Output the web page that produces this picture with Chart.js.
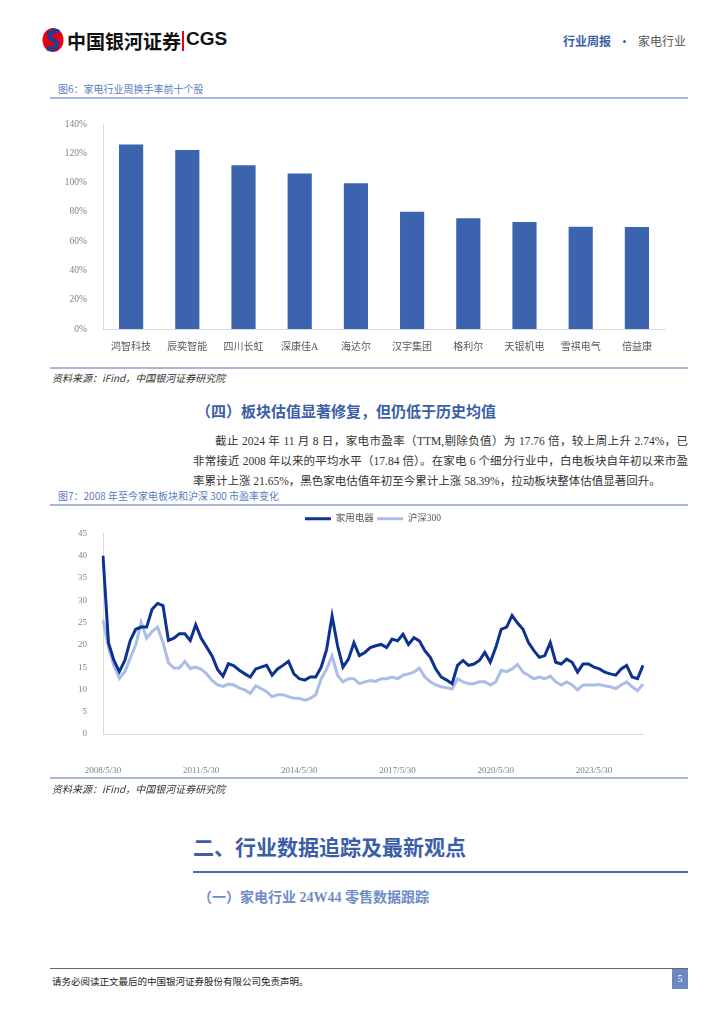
<!DOCTYPE html>
<html>
<head>
<meta charset="utf-8">
<script src="https://cdn.jsdelivr.net/npm/chart.js@4.4.1/dist/chart.umd.min.js"></script>
<style>
	body { margin: 0; background: #fff; width: 724px; height: 1024px; position: relative; overflow: hidden; font-family: "Liberation Serif", "Noto Sans CJK SC", serif; }
	.abs { position: absolute; white-space: nowrap; }
	.rule { position: absolute; height: 2px; background: #a8b7d8; }
	.figtitle { font-size: 10px; color: #5b7cbd; font-family: "Noto Sans CJK SC", sans-serif; }
	.source { font-size: 10px; color: #333; font-style: italic; font-family: "Noto Sans CJK SC", sans-serif; }
	.para { position: absolute; left: 193px; width: 495px; font-size: 11.5px; color: #333; text-align: justify; text-align-last: justify; white-space: nowrap; font-family: "Liberation Serif", "Noto Sans CJK SC", serif; }
	.head { color: #3c5ea8; font-weight: bold; font-family: "Liberation Serif", "Noto Sans CJK SC", serif; }
</style>
</head>
<body>

<!-- header -->
<svg class="abs" style="left:40px;top:27px" width="26" height="26" viewBox="0 0 26 26">
	<ellipse cx="13" cy="13" rx="10.5" ry="12" fill="#e60012"/>
	<path d="M19 5 C11 2, 5 9, 13 13 C21 17, 16 24, 7 21" stroke="#1d3e93" stroke-width="4.5" fill="none"/>
</svg>
<div class="abs" style="left:67px;top:27px;font-size:19px;font-weight:bold;color:#111;font-family:'Noto Sans CJK SC',sans-serif;">中国银河证券</div>
<div class="abs" style="left:182px;top:31px;width:2px;height:20px;background:#e60012;"></div>
<div class="abs" style="left:186px;top:28px;font-size:19px;font-weight:bold;color:#111;font-family:'Liberation Sans',sans-serif;">CGS</div>
<div class="abs" style="left:563px;top:32px;font-size:12px;font-weight:bold;color:#3c5ea8;">行业周报</div>
<div class="abs" style="left:623px;top:40px;width:3px;height:3px;border-radius:2px;background:#3c5ea8;"></div>
<div class="abs" style="left:638px;top:32px;font-size:12px;color:#555;font-family:'Noto Sans CJK SC',sans-serif;">家电行业</div>

<!-- figure 6 -->
<div class="abs figtitle" style="left:58px;top:81px;">图6：家电行业周换手率前十个股</div>
<div class="rule" style="left:50px;top:97px;width:638px;"></div>
<div class="abs" style="left:50px;top:108px;width:638px;height:258px;"><canvas id="bar-chart"></canvas></div>
<div class="rule" style="left:50px;top:367px;width:638px;"></div>
<div class="abs source" style="left:52px;top:370px;">资料来源：iFind，中国银河证券研究院</div>

<!-- section 4 -->
<div class="abs head" style="left:196px;top:400px;font-size:15px;">（四）板块估值显著修复，但仍低于历史均值</div>
<div class="para" style="top:432px;padding-left:22px;width:473px;">截止 2024 年 11 月 8 日，家电市盈率（TTM,剔除负值）为 17.76 倍，较上周上升 2.74%，已</div>
<div class="para" style="top:452px;">非常接近 2008 年以来的平均水平（17.84 倍）。在家电 6 个细分行业中，白电板块自年初以来市盈</div>
<div class="para" style="top:472px;text-align-last:left;">率累计上涨 21.65%，黑色家电估值年初至今累计上涨 58.39%，拉动板块整体估值显著回升。</div>

<!-- figure 7 -->
<div class="abs figtitle" style="left:58px;top:488px;">图7：2008 年至今家电板块和沪深 300 市盈率变化</div>
<div class="rule" style="left:50px;top:504px;width:638px;"></div>
<div class="abs" style="left:50px;top:513px;width:638px;height:267px;"><canvas id="pe-chart"></canvas></div>
<div class="rule" style="left:50px;top:777px;width:638px;"></div>
<div class="abs source" style="left:52px;top:781px;">资料来源：iFind，中国银河证券研究院</div>

<!-- section 2 -->
<div class="abs head" style="left:193px;top:831px;font-size:21px;">二、行业数据追踪及最新观点</div>
<div class="abs" style="left:193px;top:871px;width:495px;height:2px;background:#4a6bb0;"></div>
<div class="abs head" style="left:198px;top:886px;font-size:14px;color:#6f8cc6;">（一）家电行业 24W44 零售数据跟踪</div>

<!-- footer -->
<div class="abs" style="left:50px;top:968px;width:638px;height:1px;background:#666;"></div>
<div class="abs" style="left:52px;top:974px;font-size:9.5px;color:#222;font-family:'Noto Sans CJK SC',sans-serif;">请务必阅读正文最后的中国银河证券股份有限公司免责声明。</div>
<div class="abs" style="left:672px;top:969px;width:16px;height:20px;background:#6d87c0;color:#fff;font-size:10px;line-height:20px;text-align:center;">5</div>

<script>
var chartFont = '"Liberation Serif", "Noto Sans CJK SC", serif';
var tickColor = '#808080';
var axisColor = '#d9d9d9';

/* figure 6: turnover */

var stocks = ['鸿智科技', '辰奕智能', '四川长虹', '深康佳A', '海达尔', '汉宇集团', '格利尔', '天银机电', '雪祺电气', '倍益康'];
var turnover = [126.0, 122.2, 111.8, 106.2, 99.6, 80.0, 75.7, 73.0, 69.9, 69.7];

/* figure 7: PE (TTM), every two months from 2008/5/30 */

var peStart = { year: 2008, month: 5 };
var peTicks = ['2008/5/30', '2011/5/30', '2014/5/30', '2017/5/30', '2020/5/30', '2023/5/30'];
var homeAppliances = [
	40, 20.5, 16.5, 14, 16.5, 21, 23.5, 24, 24, 28,
	29.3, 28.8, 21, 21.5, 22.5, 22.5, 21, 24.5, 21.5, 19.5,
	17.5, 14.5, 13, 15.8, 15.3, 14.3, 13.5, 12.8, 14.6, 15,
	15.4, 13.2, 14.6, 15.4, 16.3, 13.5, 12.4, 12.1, 12.8, 12.8,
	15, 19, 26.5, 19.8, 15, 16.8, 20.5, 17.6, 18.3, 19.4,
	19.8, 20.1, 19.4, 21.3, 20.9, 22.4, 20.1, 21.6, 20.9, 18.7,
	17.2, 14.6, 12.8, 12.1, 11.3, 15.4, 16.5, 15.4, 15.7, 16.5,
	18.3, 16.1, 19.4, 23.5, 24, 26.6, 24.9, 23.5, 20.5, 18.7,
	17.2, 17.6, 20.5, 16.1, 15.7, 16.8, 16.1, 13.9, 15.7, 15.7,
	15, 14.6, 13.9, 13.5, 13.2, 14.6, 15.4, 12.8, 12.4, 15.4
];
var csi300 = [
	25.5, 19.5, 15.3, 12.5, 14, 17, 20, 25, 21.5, 23,
	24, 20.5, 16, 14.8, 14.8, 16.3, 14.7, 15, 14.5, 13.5,
	12, 11, 10.7, 11.2, 11, 10.3, 9.9, 9.1, 10.8, 10.2,
	9.5, 8.4, 8.8, 8.8, 8.4, 8, 8, 7.6, 8, 8.8,
	12.4, 14.6, 17.5, 13.2, 11.7, 12.4, 12.4, 11.3, 11.7, 12,
	11.8, 12.4, 12.4, 12.8, 12.4, 13.2, 13.5, 13.9, 14.8, 12.8,
	11.7, 11, 10.6, 10.4, 10.1, 12.4, 11.7, 11.3, 11.3, 11.7,
	11.7, 11, 11.7, 14.3, 14, 14.6, 15.6, 13.9, 13.2, 12.4,
	12.8, 12.4, 13, 11.7, 11, 11.7, 11, 9.9, 11, 11,
	11, 11.1, 10.8, 10.6, 10.2, 11, 11.7, 10.6, 9.7, 11.2
];

var getPeDates = function() {
	var dates = [];
	for (var i = 0; i < homeAppliances.length; i++) {
		var m = peStart.month - 1 + i * 2;
		var year = peStart.year + Math.floor(m / 12);
		dates.push(year + '/' + (m % 12 + 1) + '/30');
	}
	return dates;
};

var setBarChart = function() {
	var context = document.getElementById('bar-chart').getContext('2d');
	new Chart(context, {
		type: 'bar',
		data: {
			labels: stocks,
			datasets: [{ data: turnover, backgroundColor: '#3c64ae', categoryPercentage: 0.43, barPercentage: 1 }]
		},
		options: {
			responsive: true,
			maintainAspectRatio: false,
			animation: false,
			layout: { padding: { top: 16, right: 23, left: 0, bottom: 0 } },
			plugins: { legend: { display: false }, tooltip: { enabled: false } },
			scales: {
				x: {
					grid: { display: false },
					border: { display: true, color: axisColor, width: 1 },
					ticks: { color: '#595959', padding: 4, font: { family: chartFont, size: 10 } },
					afterFit: function(scale) { scale.height = 37; }
				},
				y: {
					min: 0, max: 140,
					grid: { display: false },
					border: { display: true, color: axisColor, width: 1 },
					ticks: { stepSize: 20, color: tickColor, padding: 8, font: { family: chartFont, size: 9.5 }, callback: function(value) { return value + '%'; } },
					afterFit: function(scale) { scale.width = 53; }
				}
			}
		}
	});
};

var setPeChart = function() {
	var context = document.getElementById('pe-chart').getContext('2d');
	new Chart(context, {
		type: 'line',
		data: {
			labels: getPeDates(),
			datasets: [
				{ label: '家用电器 ', data: homeAppliances, borderColor: '#0d3290', backgroundColor: '#0d3290', borderWidth: 3, pointRadius: 0, tension: 0 },
				{ label: '沪深300', data: csi300, borderColor: '#a9bde6', backgroundColor: '#a9bde6', borderWidth: 3, pointRadius: 0, tension: 0 }
			]
		},
		options: {
			responsive: true,
			maintainAspectRatio: false,
			animation: false,
			layout: { padding: { top: 0, right: 45, left: 0, bottom: 0 } },
			plugins: {
				tooltip: { enabled: false },
				legend: {
					position: 'top',
					fullSize: false,
					labels: { usePointStyle: true, pointStyle: 'line', pointStyleWidth: 26, boxHeight: 8, padding: 1, color: '#595959', font: { family: chartFont, size: 9.5 } }
				}
			},
			scales: {
				x: {
					grid: { display: false },
					border: { display: true, color: axisColor, width: 1 },
					ticks: {
						autoSkip: false, maxRotation: 0, color: tickColor, padding: 23, font: { family: chartFont, size: 9 },
						callback: function(value) {
							var label = this.getLabelForValue(value);
							return peTicks.indexOf(label) >= 0 ? label : '';
						}
					},
					afterFit: function(scale) { scale.height = 46; }
				},
				y: {
					min: 0, max: 45,
					grid: { display: false },
					border: { display: true, color: axisColor, width: 1 },
					ticks: { stepSize: 5, color: tickColor, padding: 8, font: { family: chartFont, size: 9 } },
					afterFit: function(scale) { scale.width = 53; }
				}
			}
		}
	});
};

var doInit = function() {
	setBarChart();
	setPeChart();
};

document.addEventListener("DOMContentLoaded", doInit);
</script>
</body>
</html>
